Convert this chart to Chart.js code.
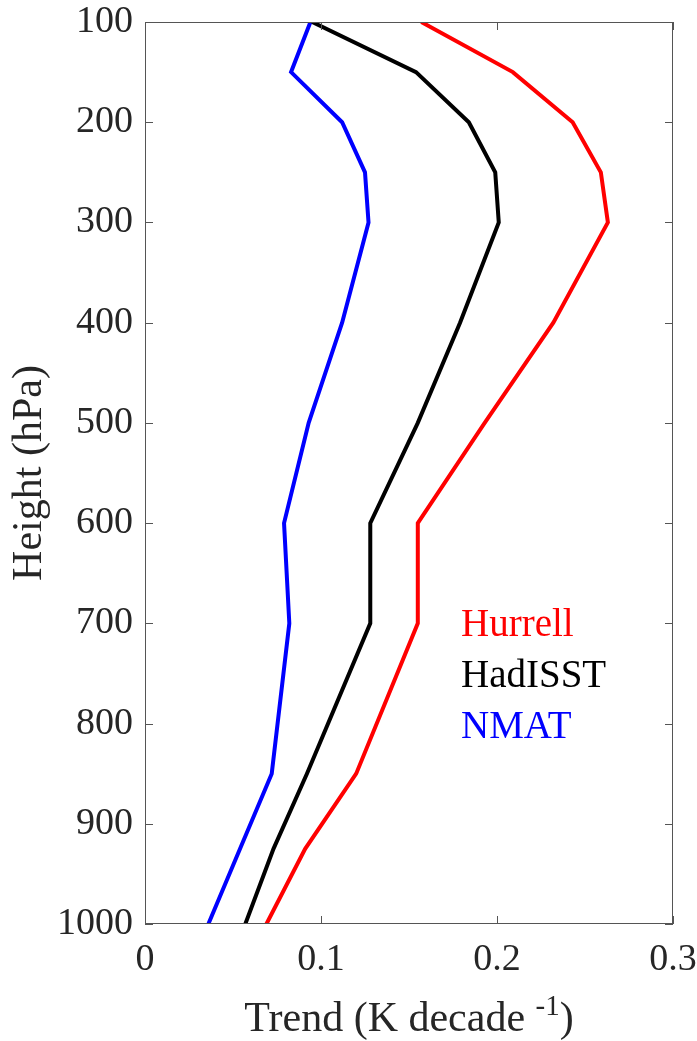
<!DOCTYPE html>
<html>
<head>
<meta charset="utf-8">
<script src="https://cdn.jsdelivr.net/npm/chart.js@4"></script>
<style>
  html, body { margin: 0; padding: 0; background: #fff; }
  #wrap { width: 697px; height: 1041px; }
</style>
</head>
<body>
<div id="wrap"><canvas id="c" width="697" height="1041"></canvas></div>
<script>
// pressure levels (hPa) and trends (K/decade)
const levels = [100, 150, 200, 250, 300, 400, 500, 600, 700, 850, 925, 1000];
const hurrell = [0.157, 0.209, 0.243, 0.259, 0.263, 0.232, 0.193, 0.155, 0.155, 0.120, 0.091, 0.069];
const hadisst = [0.095, 0.154, 0.184, 0.199, 0.201, 0.179, 0.155, 0.128, 0.128, 0.092, 0.073, 0.057];
const nmat = [0.094, 0.083, 0.112, 0.125, 0.127, 0.112, 0.093, 0.079, 0.082, 0.072, 0.054, 0.036];

const xTicks = [0, 0.1, 0.2, 0.3];
const yTicks = [100, 200, 300, 400, 500, 600, 700, 800, 900, 1000];

const seriesNames = ['Hurrell', 'HadISST', 'NMAT'];
const seriesColors = ['#ff0000', '#000000', '#0000ff'];
const seriesValues = [hurrell, hadisst, nmat];

const FONT = '"Liberation Serif", "Times New Roman", serif';
const AXIS = '#262626';
const TICK_SIZE = 38;
const LABEL_SIZE = 42;

// zero out label overhang so the plot box lands where we want it
function noPad(s) {
    s.paddingTop = 0; s.paddingBottom = 0;
    s.paddingLeft = 0; s.paddingRight = 0;
}

// MATLAB-style box with inward ticks, axis titles and text legend
const boxPlugin = {
    id: 'box',
    afterDraw(chart) {
        const ctx = chart.ctx;
        const { left, right, top, bottom } = chart.chartArea;
        const xs = chart.scales.x, ys = chart.scales.y;
        const tl = 8;
        ctx.save();
        ctx.strokeStyle = '#555';
        ctx.lineWidth = 1;
        ctx.strokeRect(left + 0.5, top + 0.5, right - left - 1, bottom - top - 1);
        ctx.beginPath();
        xTicks.forEach(v => {
            const px = Math.round(xs.getPixelForValue(v)) + 0.5;
            ctx.moveTo(px, bottom); ctx.lineTo(px, bottom - tl);
            ctx.moveTo(px, top); ctx.lineTo(px, top + tl);
        });
        yTicks.forEach(v => {
            const py = Math.round(ys.getPixelForValue(v)) + 0.5;
            ctx.moveTo(left, py); ctx.lineTo(left + tl, py);
            ctx.moveTo(right, py); ctx.lineTo(right - tl, py);
        });
        ctx.stroke();

        // y title
        ctx.fillStyle = AXIS;
        ctx.font = LABEL_SIZE + 'px ' + FONT;
        ctx.textAlign = 'center';
        ctx.textBaseline = 'middle';
        ctx.translate(30, (top + bottom) / 2);
        ctx.rotate(-Math.PI / 2);
        ctx.fillText('Height (hPa)', 0, 0);
        ctx.setTransform(1, 0, 0, 1, 0, 0);

        // x title with superscript
        const main = 'Trend (K decade ';
        const sup = '-1';
        const close = ')';
        ctx.textBaseline = 'alphabetic';
        ctx.textAlign = 'left';
        ctx.font = LABEL_SIZE + 'px ' + FONT;
        const w1 = ctx.measureText(main).width;
        const w3 = ctx.measureText(close).width;
        ctx.font = '29px ' + FONT;
        const w2 = ctx.measureText(sup).width;
        const x0 = (left + right) / 2 - (w1 + w2 + w3) / 2;
        const base = 1031;
        ctx.font = LABEL_SIZE + 'px ' + FONT;
        ctx.fillText(main, x0, base);
        ctx.font = '29px ' + FONT;
        ctx.fillText(sup, x0 + w1, base - 16);
        ctx.font = LABEL_SIZE + 'px ' + FONT;
        ctx.fillText(close, x0 + w1 + w2, base);

        // legend text
        ctx.font = '39px ' + FONT;
        seriesNames.forEach((n, i) => {
            ctx.fillStyle = seriesColors[i];
            ctx.fillText(n, 461, 636 + i * 51);
        });
        ctx.restore();
    }
};

new Chart(document.getElementById('c'), {
    type: 'scatter',
    data: {
        datasets: seriesNames.map((n, i) => ({
            label: n,
            data: levels.map((p, j) => ({ x: seriesValues[i][j], y: p })),
            borderColor: seriesColors[i],
            backgroundColor: seriesColors[i],
            borderWidth: 4,
            pointRadius: 0,
            showLine: true,
            tension: 0
        }))
    },
    options: {
        responsive: false,
        animation: false,
        layout: { padding: { left: 0, right: 24, top: 22, bottom: 0 } },
        plugins: { legend: { display: false }, tooltip: { enabled: false } },
        scales: {
            x: {
                type: 'linear',
                min: 0, max: 0.3,
                afterBuildTicks: s => { s.ticks = xTicks.map(v => ({ value: v })); },
                afterFit: s => { s.height = 117; noPad(s); },
                grid: { display: false, drawTicks: false },
                border: { display: false },
                ticks: {
                    color: AXIS,
                    font: { family: FONT, size: TICK_SIZE },
                    padding: 13,
                    maxRotation: 0,
                    callback: v => String(v)
                }
            },
            y: {
                type: 'linear',
                reverse: true,
                min: 100, max: 1000,
                afterBuildTicks: s => { s.ticks = yTicks.map(v => ({ value: v })); },
                afterFit: s => { s.width = 145; noPad(s); },
                grid: { display: false, drawTicks: false },
                border: { display: false },
                ticks: {
                    color: AXIS,
                    font: { family: FONT, size: TICK_SIZE },
                    padding: 12,
                    callback: v => String(v)
                }
            }
        }
    },
    plugins: [boxPlugin]
});
</script>
</body>
</html>
